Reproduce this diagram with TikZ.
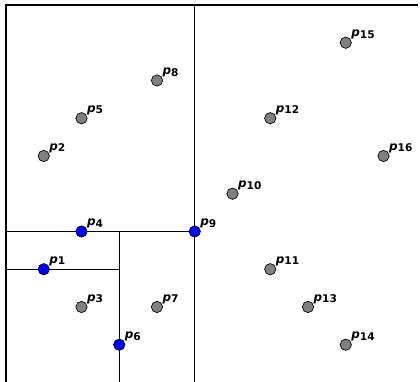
\documentclass[tikz,border=0pt]{standalone}
\usepackage{fontspec}
\setmainfont{DejaVu Sans}
\begin{document}
\begin{tikzpicture}[x=1cm,y=1cm,
  seg/.style={draw=black, line width=0.9pt},
  pt/.style={circle, draw=black, line width=0.5pt, inner sep=0pt, minimum size=0.3cm},
  gpt/.style={pt, fill=black!50},
  bpt/.style={pt, fill=blue},
  lbl/.style={anchor=south west, inner sep=0pt, font=\fontsize{9}{10}\selectfont}]
\useasboundingbox (-0.159,0.013) rectangle (10.967,10.132);
% frame
\coordinate (tl) at (0,10);
\coordinate (tr) at (10.92,10);
\coordinate (bl) at (0,0.013);
\draw[seg] (tr) -- (tl) -- (bl);
% points
\newcommand{\pnt}[4]{%
  \node[#1] (p#2) at (#3,#4) {};
  \node[lbl] (l#2) at ([xshift=0.03cm,yshift=-0.03cm]p#2.north east) {\textbf{\textit{p}}\raisebox{-1.2pt}{\fontsize{8}{9}\selectfont\bfseries #2}};}
% partition lines
\coordinate (v5t) at (5,10);
\coordinate (v5b) at (5,0.013);
\coordinate (h6l) at (0,4);
\coordinate (h6r) at (5,4);
\coordinate (v3t) at (3,4);
\coordinate (v3b) at (3,0.013);
\coordinate (h7l) at (0,3);
\coordinate (h7r) at (3,3);
\draw[seg] (v5t) -- (v5b);
\draw[seg] (h6l) -- (h6r);
\draw[seg] (v3t) -- (v3b);
\draw[seg] (h7l) -- (h7r);
\pnt{bpt}{1}{1}{3}
\pnt{gpt}{2}{1}{6}
\pnt{gpt}{3}{2}{2}
\pnt{bpt}{4}{2}{4}
\pnt{gpt}{5}{2}{7}
\pnt{bpt}{6}{3}{1}
\pnt{gpt}{7}{4}{2}
\pnt{gpt}{8}{4}{8}
\pnt{bpt}{9}{5}{4}
\pnt{gpt}{10}{6}{5}
\pnt{gpt}{11}{7}{3}
\pnt{gpt}{12}{7}{7}
\pnt{gpt}{13}{8}{2}
\pnt{gpt}{14}{9}{1}
\pnt{gpt}{15}{9}{9}
\pnt{gpt}{16}{10}{6}
\end{tikzpicture}
\end{document}
